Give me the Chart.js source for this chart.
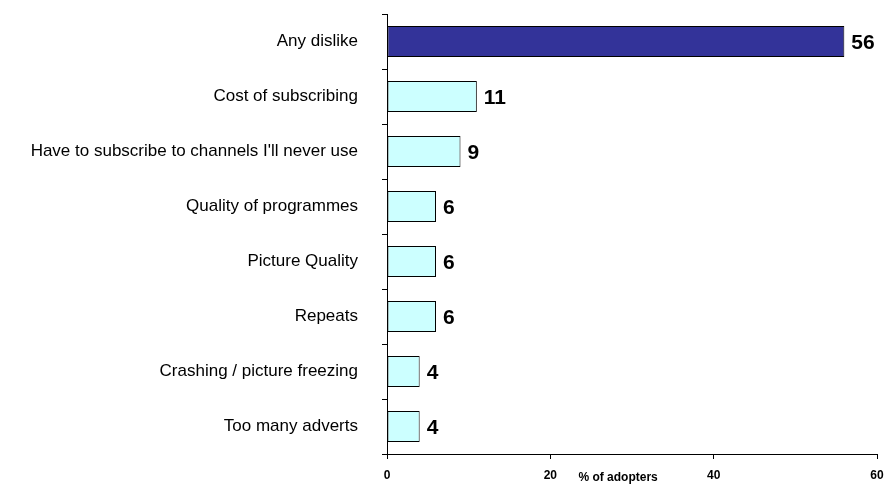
<!DOCTYPE html>
<html>
<head>
<meta charset="utf-8">
<script src="https://cdn.jsdelivr.net/npm/chart.js@4"></script>
<style>
  html, body { margin: 0; padding: 0; background: #fff; }
  #wrap { width: 888px; height: 489px; }
</style>
</head>
<body>
<div id="wrap"><canvas id="dislikeChart" width="888" height="489"></canvas></div>
<script>
const reasons = [
    'Any dislike',
    'Cost of subscribing',
    "Have to subscribe to channels I'll never use",
    'Quality of programmes',
    'Picture Quality',
    'Repeats',
    'Crashing / picture freezing',
    'Too many adverts'
];
const adopters = [56, 11, 9, 6, 6, 6, 4, 4];
const xTicks = [0, 20, 40, 60];
const axisTitle = '% of adopters';

// first bar is the total, the rest are the individual reasons
const barColors = adopters.map((v, i) => i === 0 ? '#333399' : '#CCFFFF');

const valueLabels = {
    id: 'valueLabels',
    afterDatasetsDraw(chart) {
        const ctx = chart.ctx;
        const meta = chart.getDatasetMeta(0);
        ctx.save();
        ctx.font = 'bold 21px "Liberation Sans", Arial, sans-serif';
        ctx.fillStyle = '#000';
        ctx.textAlign = 'left';
        ctx.textBaseline = 'middle';
        meta.data.forEach((bar, i) => {
            ctx.fillText(String(adopters[i]), bar.x + 7, bar.y + 2);
        });
        ctx.restore();
    }
};

const xTitle = {
    id: 'xTitle',
    afterDraw(chart) {
        const ctx = chart.ctx;
        const x = chart.scales.x;
        ctx.save();
        ctx.font = 'bold 12px "Liberation Sans", Arial, sans-serif';
        ctx.fillStyle = '#000';
        ctx.textAlign = 'center';
        ctx.textBaseline = 'middle';
        ctx.fillText(axisTitle, x.getPixelForValue(28.3), chart.chartArea.bottom + 24);
        ctx.restore();
    }
};

new Chart(document.getElementById('dislikeChart').getContext('2d'), {
    type: 'bar',
    data: {
        labels: reasons,
        datasets: [{
            data: adopters,
            backgroundColor: barColors,
            borderColor: '#000',
            borderWidth: 1,
            borderSkipped: false,
            barPercentage: 0.56,
            categoryPercentage: 1
        }]
    },
    options: {
        indexAxis: 'y',
        responsive: false,
        animation: false,
        layout: { padding: { top: 14, right: 11, bottom: 0, left: 0 } },
        plugins: {
            legend: { display: false },
            tooltip: { enabled: false }
        },
        scales: {
            x: {
                min: 0,
                max: 60,
                afterBuildTicks: axis => { axis.ticks = xTicks.map(v => ({ value: v })); },
                afterFit: axis => {
                    axis.height = 35;
                    axis.paddingLeft = 0;
                    axis.paddingRight = 0;
                },
                border: { color: '#000', width: 1 },
                grid: { drawOnChartArea: false, color: '#000', tickLength: 5 },
                ticks: {
                    color: '#000',
                    padding: 9,
                    maxRotation: 0,
                    font: { family: '"Liberation Sans", Arial, sans-serif', size: 12, weight: 'bold' }
                }
            },
            y: {
                afterFit: axis => {
                    axis.width = 387;
                    axis.paddingTop = 0;
                    axis.paddingBottom = 0;
                },
                border: { color: '#000', width: 1 },
                grid: { offset: true, drawOnChartArea: false, color: '#000', tickLength: 5 },
                ticks: {
                    color: '#000',
                    padding: 24,
                    autoSkip: false,
                    font: { family: '"Liberation Sans", Arial, sans-serif', size: 17 }
                }
            }
        }
    },
    plugins: [valueLabels, xTitle]
});
</script>
</body>
</html>
